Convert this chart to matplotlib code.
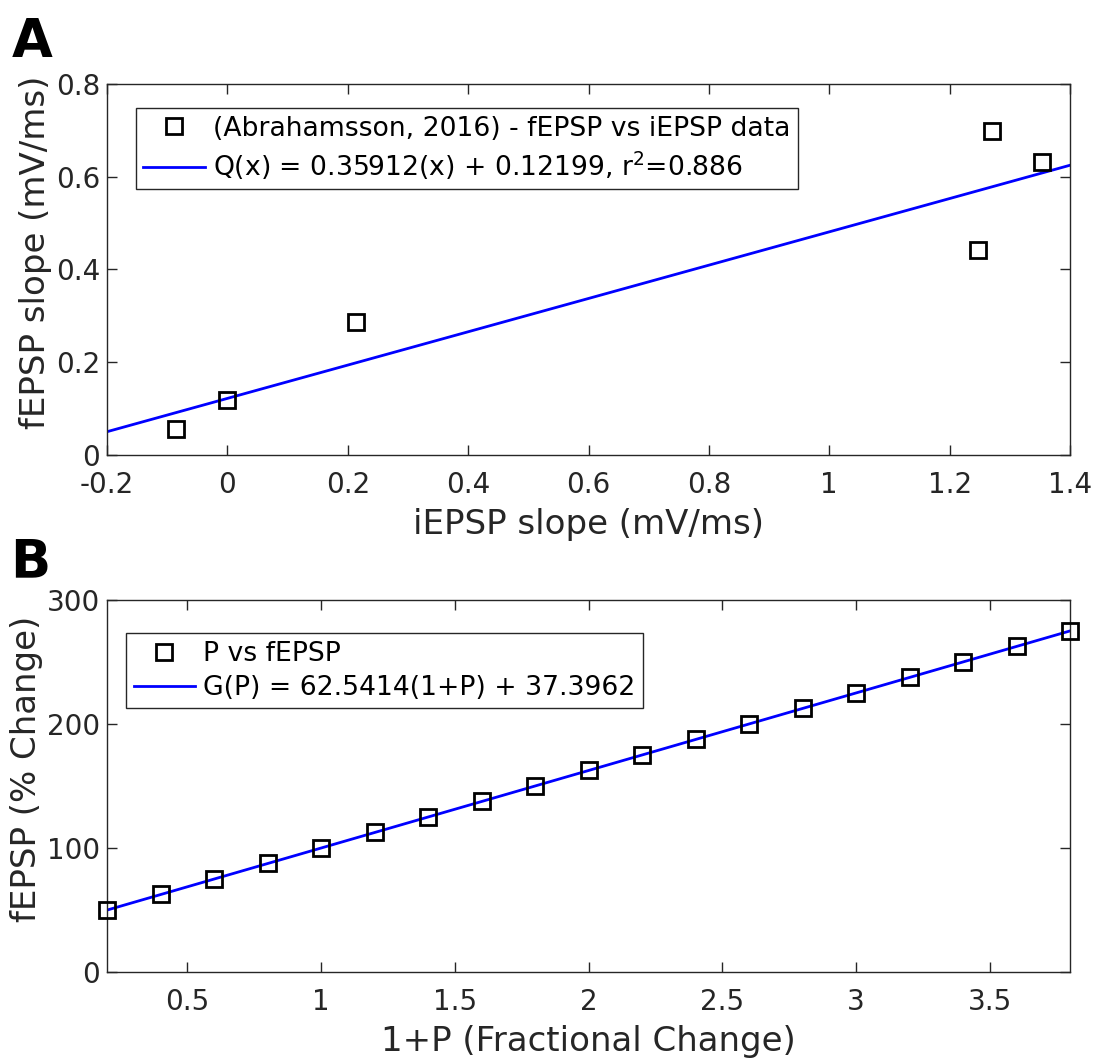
import matplotlib
matplotlib.use("Agg")
import matplotlib.pyplot as plt
import numpy as np

# panel A data: iEPSP vs fEPSP slope (mV/ms)
iepsp = [-0.085, 0.0, 0.214, 1.247, 1.270, 1.353]
fepsp = [0.057, 0.119, 0.287, 0.441, 0.698, 0.631]
q_slope, q_icpt = 0.35912, 0.12199
q_xrange = [-0.2, 1.4]

# panel B data: 1+P vs fEPSP (% change)
one_plus_p = [0.2, 0.4, 0.6, 0.8, 1.0, 1.2, 1.4, 1.6, 1.8, 2.0,
              2.2, 2.4, 2.6, 2.8, 3.0, 3.2, 3.4, 3.6, 3.8]
fepsp_pct = [50, 62.5, 75, 87.5, 100, 112.5, 125, 137.5, 150, 162.5,
             175, 187.5, 200, 212.5, 225, 237.5, 250, 262.5, 275]
g_slope, g_icpt = 62.5414, 37.3962
g_xrange = [0.2, 3.8]

plt.rcParams['font.family'] = 'DejaVu Sans'
plt.rcParams['mathtext.default'] = 'regular'
dark = '#262626'

fig = plt.figure(figsize=(11.01, 10.64), dpi=100)
axA = fig.add_axes([0.0972, 0.5724, 0.8747, 0.3487])
axB = fig.add_axes([0.0972, 0.0865, 0.8747, 0.3496])


def style(ax):
    ax.tick_params(direction='in', length=7, width=1, top=True, right=True,
                   labelsize=20, colors=dark)
    ax.tick_params(axis='x', pad=11.5)
    ax.tick_params(axis='y', pad=5)
    for s in ax.spines.values():
        s.set_color(dark)
        s.set_linewidth(1)
    ax.yaxis.label.set_y(0.545)


def legend(ax, anchor):
    leg = ax.legend(loc='upper left', bbox_to_anchor=anchor, fontsize=19.2,
                    fancybox=False, framealpha=1, edgecolor=dark,
                    handlelength=2.3, handletextpad=0.3, borderaxespad=0,
                    borderpad=0.28, labelspacing=0.3)
    leg.get_frame().set_linewidth(1)
    return leg


xl = np.array(q_xrange)
axA.plot(iepsp, fepsp, 's', ms=11.5, mfc='none', mec='black', mew=2,
         clip_on=False, zorder=3,
         label='(Abrahamsson, 2016) - fEPSP vs iEPSP data')
axA.plot(xl, q_slope * xl + q_icpt, color='blue', lw=2,
         label='Q(x) = 0.35912(x) + 0.12199, r$^{2}$=0.886')
axA.set_xlim(-0.2, 1.4)
axA.set_ylim(0, 0.8)
axA.set_xticks([-0.2, 0, 0.2, 0.4, 0.6, 0.8, 1, 1.2, 1.4])
axA.set_xticklabels(['-0.2', '0', '0.2', '0.4', '0.6', '0.8', '1', '1.2', '1.4'])
axA.set_yticks([0, 0.2, 0.4, 0.6, 0.8])
axA.set_yticklabels(['0', '0.2', '0.4', '0.6', '0.8'])
axA.set_xlabel('iEPSP slope (mV/ms)', fontsize=24.5, color=dark, labelpad=6.5)
axA.set_ylabel('fEPSP slope (mV/ms)', fontsize=24.5, color=dark, labelpad=3)
style(axA)
legend(axA, (0.03, 0.935))

xg = np.array(g_xrange)
axB.plot(one_plus_p, fepsp_pct, 's', ms=11.5, mfc='none', mec='black', mew=2,
         clip_on=False, zorder=3, label='P vs fEPSP')
axB.plot(xg, g_slope * xg + g_icpt, color='blue', lw=2,
         label='G(P) = 62.5414(1+P) + 37.3962')
axB.set_xlim(0.2, 3.8)
axB.set_ylim(0, 300)
axB.set_xticks([0.5, 1, 1.5, 2, 2.5, 3, 3.5])
axB.set_xticklabels(['0.5', '1', '1.5', '2', '2.5', '3', '3.5'])
axB.set_yticks([0, 100, 200, 300])
axB.set_xlabel('1+P (Fractional Change)', fontsize=24.5, color=dark, labelpad=6.5)
axB.set_ylabel('fEPSP (% Change)', fontsize=24.5, color=dark, labelpad=3)
style(axB)
legend(axB, (0.02, 0.91))

fig.text(0.011, 0.985, 'A', fontsize=38, fontweight='bold', va='top', ha='left')
fig.text(0.009, 0.496, 'B', fontsize=38, fontweight='bold', va='top', ha='left')

fig.savefig('out.png', dpi=100)
